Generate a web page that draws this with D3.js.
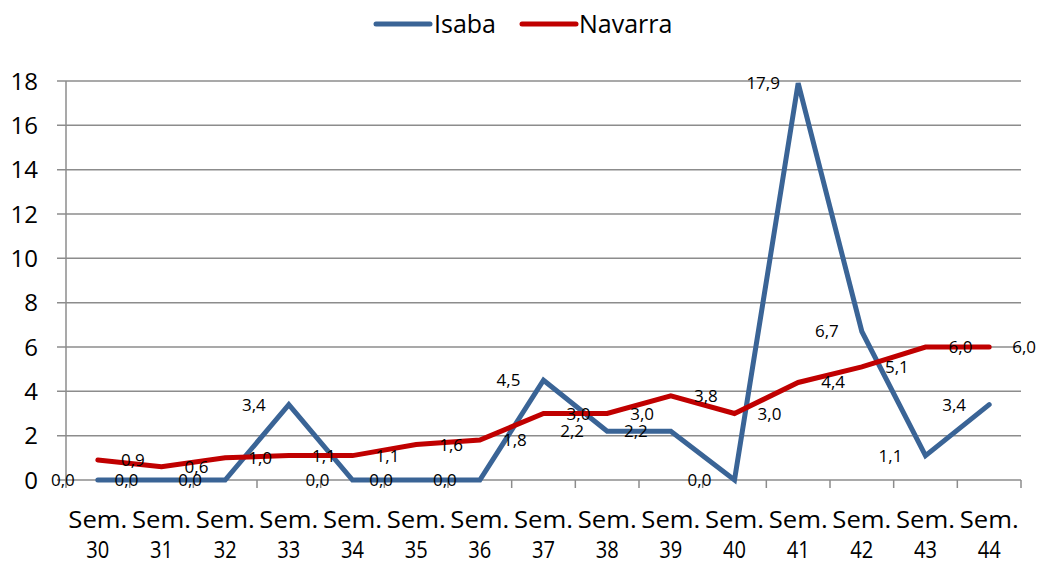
<!DOCTYPE html>
<html>
<head>
<meta charset="utf-8">
<script src="https://cdn.jsdelivr.net/npm/d3@7"></script>
<style>
	body { margin: 0; background: #fff; }
	svg { font-family: "Open Sans", "Noto Sans", sans-serif; }
</style>
</head>
<body>
<svg id="chart" width="1041" height="565"></svg>
<script>
	var semanas = ["30","31","32","33","34","35","36","37","38","39","40","41","42","43","44"];
	var isaba = [0.0,0.0,0.0,3.4,0.0,0.0,0.0,4.5,2.2,2.2,0.0,17.9,6.7,1.1,3.4];
	var navarra = [0.9,0.6,1.0,1.1,1.1,1.6,1.8,3.0,3.0,3.8,3.0,4.4,5.1,6.0,6.0];
	var yTicks = [0,2,4,6,8,10,12,14,16,18];

	var series = [
		{name:"Isaba", values:isaba, color:"#3A6496", side:-1},
		{name:"Navarra", values:navarra, color:"#C00000", side:1}
	];

	var plotLeft = 66, plotRight = 1021, plotTop = 81, plotBottom = 480;
	var svg = d3.select("#chart");

	var x = d3.scaleBand().domain(semanas).range([plotLeft,plotRight]);
	var y = d3.scaleLinear().domain([0,18]).range([plotBottom,plotTop]);
	var fmt = function(v){ return v.toFixed(1).replace(".",","); };

	// grid
	svg.append("g").selectAll("line").data(yTicks).enter().append("line")
		.attr("x1",plotLeft-9).attr("x2",plotRight)
		.attr("y1",function(d){return y(d)}).attr("y2",function(d){return y(d)})
		.attr("stroke","#8c8c8c").attr("stroke-width",1.5);

	// y axis line
	svg.append("line").attr("x1",plotLeft).attr("x2",plotLeft).attr("y1",plotTop).attr("y2",plotBottom)
		.attr("stroke","#8c8c8c").attr("stroke-width",1.5);

	// x ticks
	var edges = semanas.map(function(d){return x(d)}).concat([plotRight]);
	svg.append("g").selectAll("line").data(edges).enter().append("line")
		.attr("x1",function(d){return d}).attr("x2",function(d){return d})
		.attr("y1",plotBottom).attr("y2",plotBottom+8)
		.attr("stroke","#8c8c8c").attr("stroke-width",1.5);

	// y labels
	svg.append("g").selectAll("text").data(yTicks).enter().append("text")
		.attr("x",38).attr("y",function(d){return y(d)+8.5})
		.attr("text-anchor","end").attr("font-size",24).attr("fill","#000")
		.text(function(d){return d});

	// x labels
	var xl = svg.append("g").selectAll("g").data(semanas).enter().append("g")
		.attr("transform",function(d){return "translate("+(x(d)+x.bandwidth()/2)+",0)"});
	xl.append("text").attr("y",528).attr("text-anchor","middle").attr("font-size",24)
		.attr("textLength",59).attr("lengthAdjust","spacingAndGlyphs").text("Sem.");
	xl.append("text").attr("y",558).attr("text-anchor","middle").attr("font-size",23)
		.attr("textLength",23).attr("lengthAdjust","spacingAndGlyphs").text(function(d){return d});

	var line = d3.line()
		.x(function(d,i){return x(semanas[i])+x.bandwidth()/2})
		.y(function(d){return y(d)});

	series.forEach(function(s){
		svg.append("path").datum(s.values).attr("d",line)
			.attr("fill","none").attr("stroke",s.color).attr("stroke-width",5)
			.attr("stroke-linejoin","miter").attr("stroke-linecap","round");
	});

	series.forEach(function(s){
		svg.append("g").selectAll("text").data(s.values).enter().append("text")
			.attr("x",function(d,i){return x(semanas[i])+x.bandwidth()/2+s.side*35})
			.attr("y",function(d){return y(d)+6})
			.attr("text-anchor","middle").attr("font-size",17).attr("fill","#000")
			.text(fmt);
	});

	// legend
	var lg = svg.append("g");
	var items = [{s:series[0],x0:376,tx:434},{s:series[1],x0:522,tx:579}];
	items.forEach(function(it){
		lg.append("line").attr("x1",it.x0).attr("x2",it.x0+54).attr("y1",24).attr("y2",24)
			.attr("stroke",it.s.color).attr("stroke-width",5).attr("stroke-linecap","round");
		lg.append("text").attr("x",it.tx).attr("y",33).attr("font-size",25).text(it.s.name);
	});
</script>
</body>
</html>
